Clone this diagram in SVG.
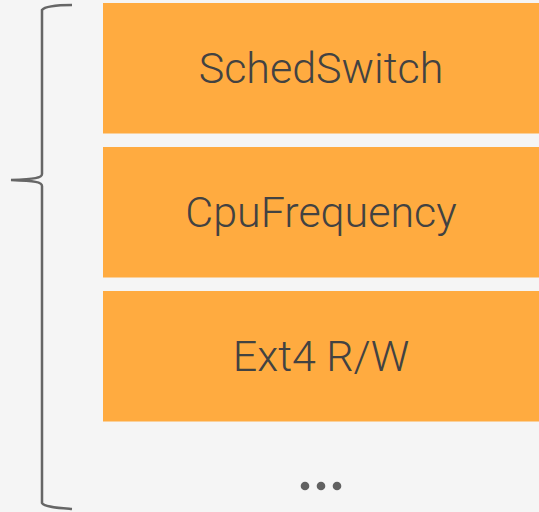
<svg xmlns="http://www.w3.org/2000/svg" width="539" height="512" viewBox="0 0 539 512">
  <style>
    .box { fill: #FFAB40; }
    .label { font-family: Roboto, "Liberation Sans", sans-serif; font-weight: 300; font-size: 43px; fill: #424242; text-anchor: middle; }
    .brace { fill: none; stroke: #666666; stroke-width: 2.5; stroke-linecap: butt; }
    .dot { fill: #616161; }
  </style>
  <rect width="539" height="512" fill="#F5F5F5"/>

  <g id="brace-group">
    <path class="brace" d="M72,5 C60,5 45,6 42,10 L42,174 C42,178 35,179 11,180 C35,181 42,182 42,186 L42,503 C44,507 60,508 72,509"/>
  </g>

  <g id="node-schedswitch">
    <rect class="box" x="103" y="3" width="436" height="130.5"/>
    <text class="label" x="321" y="83">SchedSwitch</text>
  </g>
  <g id="node-cpufrequency">
    <rect class="box" x="103" y="147" width="436" height="130.5"/>
    <text class="label" x="321" y="227">CpuFrequency</text>
  </g>
  <g id="node-ext4">
    <rect class="box" x="103" y="291" width="436" height="130.5"/>
    <text class="label" x="321" y="371">Ext4 R/W</text>
  </g>

  <g id="ellipsis">
    <circle class="dot" cx="305" cy="486" r="4.3"/>
    <circle class="dot" cx="321" cy="486" r="4.3"/>
    <circle class="dot" cx="337" cy="486" r="4.3"/>
  </g>
</svg>
